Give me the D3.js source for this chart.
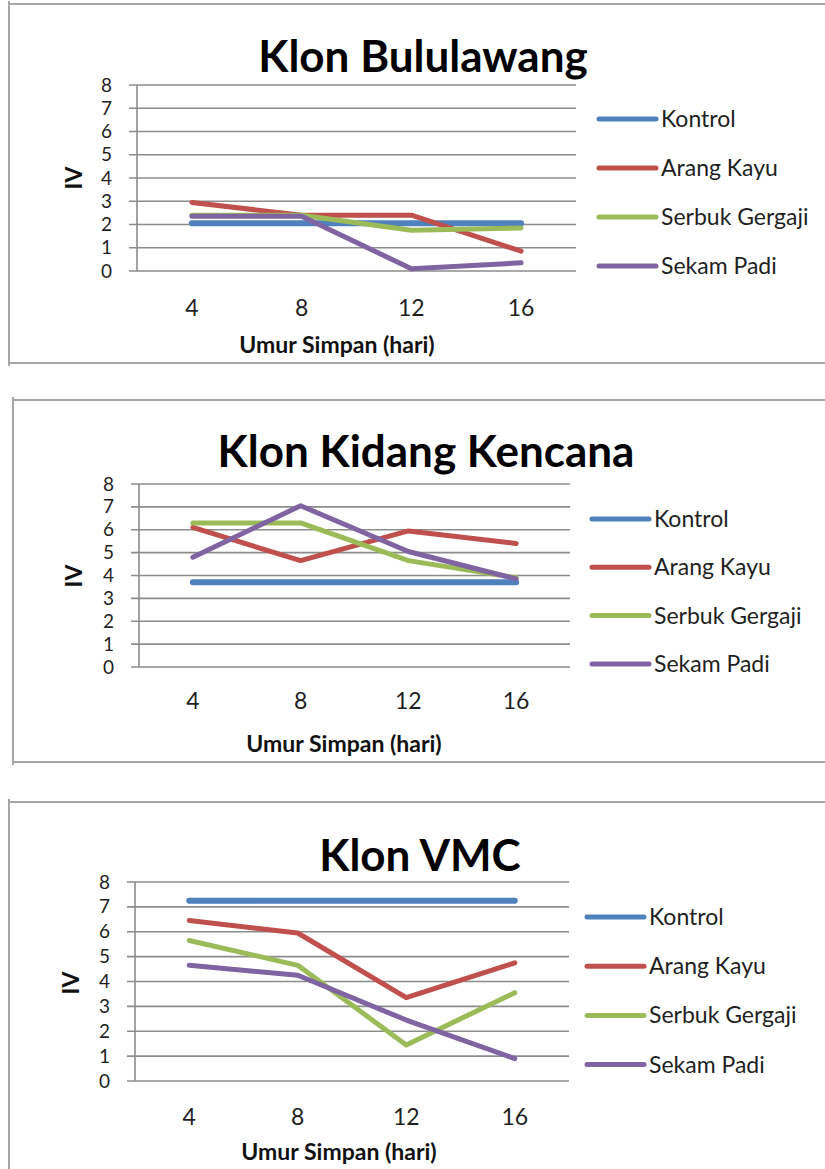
<!DOCTYPE html>
<html>
<head>
<meta charset="utf-8">
<script src="https://cdnjs.cloudflare.com/ajax/libs/d3/7.8.5/d3.min.js"></script>
<style>
  body { margin: 0; background: #fff; }
  text { font-family: Lato, "Open Sans", sans-serif; }
</style>
</head>
<body>
<div id="chart"></div>
<script>
// data
var days = [4, 8, 12, 16];
var seriesNames = ["Kontrol", "Arang Kayu", "Serbuk Gergaji", "Sekam Padi"];
var colors = ["#4f81bd", "#c0504d", "#9bbb59", "#8064a2"];
var yTicks = [0, 1, 2, 3, 4, 5, 6, 7, 8];

// one row per series, same order as seriesNames
var bululawang = [
  [2.05, 2.05, 2.05, 2.05],
  [2.95, 2.4, 2.4, 0.85],
  [2.4, 2.4, 1.75, 1.85],
  [2.35, 2.35, 0.1, 0.35]
];
var kidangKencana = [
  [3.7, 3.7, 3.7, 3.7],
  [6.1, 4.65, 5.95, 5.4],
  [6.3, 6.3, 4.65, 3.9],
  [4.8, 7.05, 5.05, 3.85]
];
var vmc = [
  [7.25, 7.25, 7.25, 7.25],
  [6.45, 5.95, 3.35, 4.75],
  [5.65, 4.65, 1.45, 3.55],
  [4.65, 4.25, 2.45, 0.9]
];

var panels = [
  { title: "Klon Bululawang", values: bululawang,
    frame: {x: 9, top: 4, bottom: 363}, left: 137, right: 576, top: 85, bottom: 271,
    titleX: 423, titleY: 72, legX: 599, legY: 119, legStep: 49,
    tickY: 308, labX: 337, labY: 345, ivX: 74, ivY: 178 },
  { title: "Klon Kidang Kencana", values: kidangKencana,
    frame: {x: 13, top: 400, bottom: 762}, left: 139, right: 570, top: 484, bottom: 667,
    titleX: 426, titleY: 467, legX: 592, legY: 519, legStep: 48.3,
    tickY: 701, labX: 344, labY: 744, ivX: 74, ivY: 576 },
  { title: "Klon VMC", values: vmc,
    frame: {x: 9, top: 802, bottom: 1180}, left: 135, right: 569, top: 882, bottom: 1081,
    titleX: 420, titleY: 871, legX: 587, legY: 917, legStep: 49.2,
    tickY: 1117, labX: 339, labY: 1152, ivX: 71, ivY: 983 }
];

var svg = d3.select("#chart").append("svg")
    .attr("width", 825)
    .attr("height", 1169);

panels.forEach(function(p) {
  var g = svg.append("g");

  // frame (right side runs off the page)
  g.append("path")
    .attr("d", "M830," + p.frame.top + "H" + p.frame.x +
               "M" + p.frame.x + "," + (p.frame.top - 3) + "V" + (p.frame.bottom + 3) +
               "M" + p.frame.x + "," + p.frame.bottom + "H830")
    .attr("fill", "none")
    .attr("stroke", "#a6a6a6")
    .attr("stroke-width", 2);

  var x = d3.scaleBand()
      .domain(days)
      .range([p.left, p.right]);

  var y = d3.scaleLinear()
      .domain([0, 8])
      .range([p.bottom, p.top]);

  // gridlines
  g.selectAll(".grid").data(yTicks).enter().append("line")
    .attr("x1", p.left - 8)
    .attr("x2", p.right)
    .attr("y1", function(d) { return y(d); })
    .attr("y2", function(d) { return y(d); })
    .attr("stroke", "#8c8c8c")
    .attr("stroke-width", 1.6);

  // y axis line
  g.append("line")
    .attr("x1", p.left).attr("x2", p.left)
    .attr("y1", p.top).attr("y2", p.bottom)
    .attr("stroke", "#8c8c8c")
    .attr("stroke-width", 1.6);

  var yAxis = d3.axisLeft(y)
      .tickValues(yTicks)
      .tickSize(0)
      .tickPadding(25);

  var ya = g.append("g")
    .attr("transform", "translate(" + p.left + ",0)")
    .call(yAxis);
  ya.select(".domain").remove();
  ya.selectAll("text")
    .attr("font-family", "Lato, sans-serif")
    .attr("font-size", 19)
    .attr("fill", "#1f1f1f");

  var xAxis = d3.axisBottom(x).tickSize(0).tickPadding(0);
  var xa = g.append("g")
    .attr("transform", "translate(0," + p.tickY + ")")
    .call(xAxis);
  xa.select(".domain").remove();
  xa.selectAll("text")
    .attr("dy", "0.35em")
    .attr("font-family", "Lato, sans-serif")
    .attr("font-size", 23)
    .attr("fill", "#1f1f1f");

  // series lines
  var line = d3.line()
      .x(function(d, i) { return x(days[i]) + x.bandwidth() / 2; })
      .y(function(d) { return y(d); });

  g.selectAll(".series").data(p.values).enter().append("path")
    .attr("d", function(d) { return line(d); })
    .attr("fill", "none")
    .attr("stroke", function(d, i) { return colors[i]; })
    .attr("stroke-width", function(d, i) { return i == 0 ? 6 : 5; })
    .attr("stroke-linecap", "round")
    .attr("stroke-linejoin", "round");

  // title
  g.append("text")
    .attr("x", p.titleX)
    .attr("y", p.titleY)
    .attr("text-anchor", "middle")
    .attr("font-size", 44)
    .attr("font-weight", "bold")
    .attr("fill", "#000")
    .text(p.title);

  // axis titles
  g.append("text")
    .attr("x", p.labX)
    .attr("y", p.labY)
    .attr("dy", "0.35em")
    .attr("text-anchor", "middle")
    .attr("font-size", 23)
    .attr("font-weight", "bold")
    .attr("fill", "#111")
    .text("Umur Simpan (hari)");

  g.append("text")
    .attr("transform", "translate(" + p.ivX + "," + p.ivY + ") rotate(-90)")
    .attr("dy", "0.35em")
    .attr("text-anchor", "middle")
    .attr("font-size", 23)
    .attr("font-weight", "bold")
    .attr("fill", "#111")
    .text("IV");

  // legend
  var leg = g.selectAll(".leg").data(seriesNames).enter().append("g")
    .attr("transform", function(d, i) { return "translate(" + p.legX + "," + (p.legY + i * p.legStep) + ")"; });

  leg.append("line")
    .attr("x1", 0).attr("x2", 57)
    .attr("stroke", function(d, i) { return colors[i]; })
    .attr("stroke-width", 5)
    .attr("stroke-linecap", "round");

  leg.append("text")
    .attr("x", 62)
    .attr("dy", "0.35em")
    .attr("font-size", 23)
    .attr("fill", "#1f1f1f")
    .text(function(d) { return d; });
});
</script>
</body>
</html>
